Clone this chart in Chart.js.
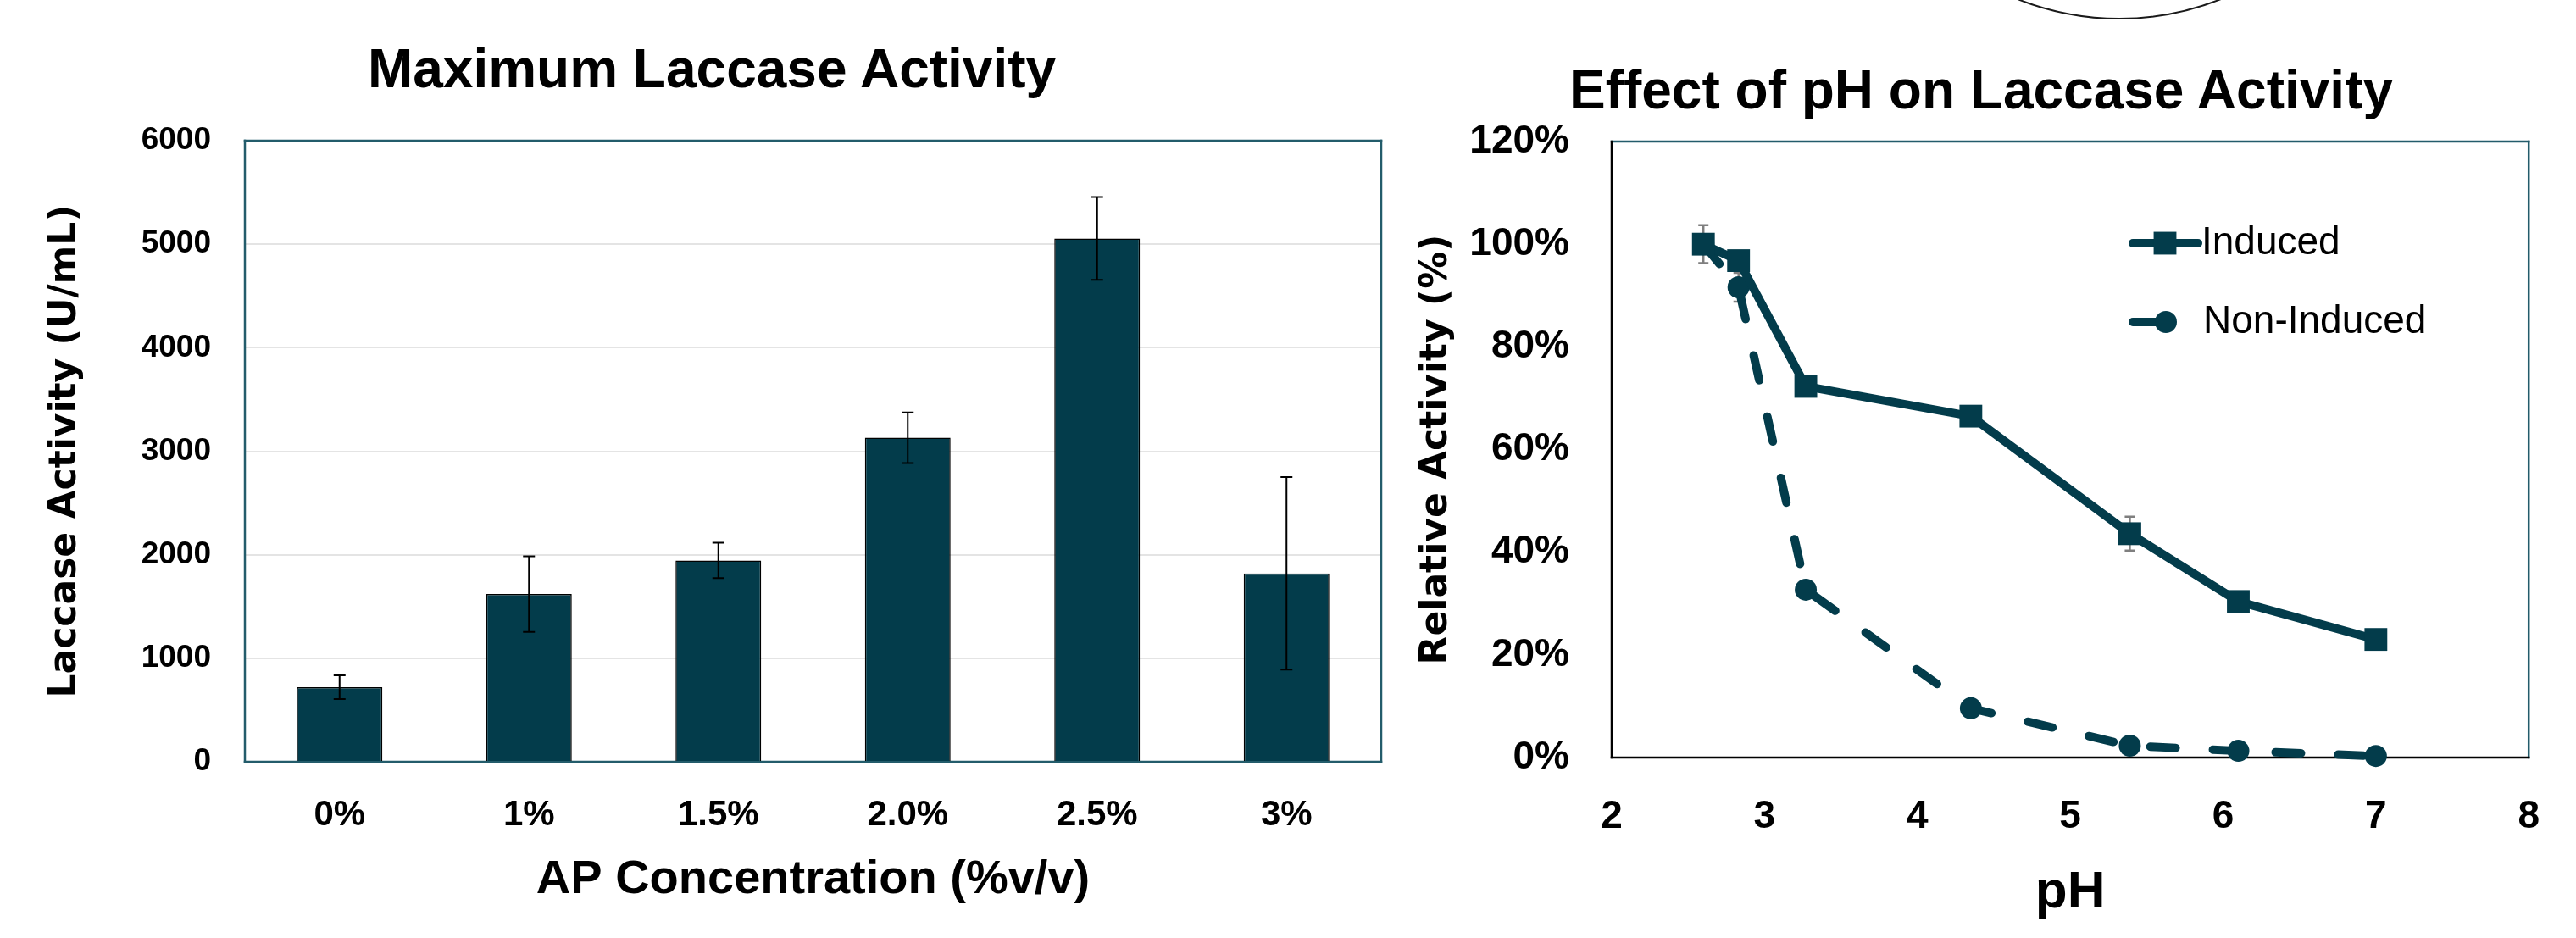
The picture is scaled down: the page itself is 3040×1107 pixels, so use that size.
<!DOCTYPE html>
<html>
<head>
<meta charset="utf-8">
<title>Laccase Activity</title>
<script src="https://cdn.jsdelivr.net/npm/chart.js@4.4.1/dist/chart.umd.min.js"></script>
<style>
  html, body { margin: 0; padding: 0; background: white; overflow: hidden; }
  #pagina { position: relative; width: 3040px; height: 1107px; overflow: hidden; background: white; }
  canvas { position: absolute; top: 0; }
  #graficoBarras { left: 0; }
  #graficoLinhas { left: 1650px; }
  .tituloGrafico {
    position: absolute;
    font-family: "Liberation Sans", Arial, sans-serif;
    font-weight: bold;
    font-size: 64px;
    line-height: 64px;
    text-align: center;
    color: #000;
    white-space: nowrap;
  }
  #tituloBarras { left: 0; width: 1680px; top: 49px; }
  #tituloLinhas { left: 1638px; width: 1400px; top: 74px; }
  #arco {
    position: absolute; left: 2176px; top: -627px;
    width: 650px; height: 650px;
    border: 2px solid #1a1a1a; border-radius: 50%; box-sizing: border-box;
  }
</style>
</head>
<body>
<div id="pagina">
  <div id="arco"></div>
  <div class="tituloGrafico" id="tituloBarras">Maximum Laccase Activity</div>
  <div class="tituloGrafico" id="tituloLinhas">Effect of pH on Laccase Activity</div>
  <canvas id="graficoBarras" width="1650" height="1107"></canvas>
  <canvas id="graficoLinhas" width="1390" height="1107"></canvas>
</div>

<script>
// ---- dados ----
var categoriasAP = ["0%", "1%", "1.5%", "2.0%", "2.5%", "3%"];
var atividadeMaxima = [720, 1620, 1945, 3130, 5055, 1820];
var erroAtividade = [115, 365, 170, 245, 400, 930];
var ticksAtividade = [0, 1000, 2000, 3000, 4000, 5000, 6000];

var valoresPH = [2.6, 2.83, 3.27, 4.35, 5.39, 6.1, 7.0];
var atividadeInduzida = [100, 96.8, 72.3, 66.5, 43.6, 30.4, 23.0];
var erroInduzida = [3.7, 1.2, 1, 1, 3.3, 1, 1];
var atividadeNaoInduzida = [100, 91.6, 32.7, 9.6, 2.3, 1.3, 0.3];
var erroNaoInduzida = [1, 2.8, 1, 1, 0.5, 0.5, 0.5];
var ticksPH = [2, 3, 4, 5, 6, 7, 8];
var ticksRelativa = [0, 20, 40, 60, 80, 100, 120];

var corTeal = "#033c4b";
var corMoldura = "#235c6b";
var fonteTexto = "'Liberation Sans', Arial, sans-serif";
var fonteEixo = "'DejaVu Sans', Verdana, sans-serif";

Chart.defaults.font.family = fonteTexto;
Chart.defaults.color = "#000";

// moldura em volta da area do grafico
var pluginMoldura = {
  id: "moldura",
  beforeDatasetsDraw: function (chart, args, op) {
    var ctx = chart.ctx;
    var a = chart.chartArea;
    ctx.save();
    ctx.lineWidth = op.largura;
    ctx.lineCap = "square";
    ctx.strokeStyle = op.topo;
    ctx.beginPath(); ctx.moveTo(a.left, a.top); ctx.lineTo(a.right, a.top); ctx.stroke();
    ctx.strokeStyle = op.direita;
    ctx.beginPath(); ctx.moveTo(a.right, a.top); ctx.lineTo(a.right, a.bottom); ctx.stroke();
    ctx.strokeStyle = op.esquerda;
    ctx.beginPath(); ctx.moveTo(a.left, a.top); ctx.lineTo(a.left, a.bottom); ctx.stroke();
    ctx.strokeStyle = op.base;
    ctx.beginPath(); ctx.moveTo(a.left, a.bottom); ctx.lineTo(a.right, a.bottom); ctx.stroke();
    ctx.restore();
  }
};

function desenharErros(chart, op) {
  var ctx = chart.ctx;
  var escalaY = chart.scales.y;
  for (var d = 0; d < chart.data.datasets.length; d++) {
    var dataset = chart.data.datasets[d];
    if (!dataset.erros) continue;
    var meta = chart.getDatasetMeta(d);
    ctx.save();
    ctx.strokeStyle = op.cor;
    ctx.lineWidth = op.largura;
    for (var i = 0; i < dataset.erros.length; i++) {
      var ponto = dataset.data[i];
      var valor = typeof ponto === "object" ? ponto.y : ponto;
      var x = meta.data[i].x;
      var topo = escalaY.getPixelForValue(valor + dataset.erros[i]);
      var base = escalaY.getPixelForValue(valor - dataset.erros[i]);
      ctx.beginPath();
      ctx.moveTo(x, topo); ctx.lineTo(x, base);
      ctx.moveTo(x - op.capa, topo); ctx.lineTo(x + op.capa, topo);
      ctx.moveTo(x - op.capa, base); ctx.lineTo(x + op.capa, base);
      ctx.stroke();
    }
    ctx.restore();
  }
}

var pluginErros = {
  id: "barrasErro",
  beforeDatasetsDraw: function (chart, args, op) {
    if (!op.naFrente) desenharErros(chart, op);
  },
  afterDatasetsDraw: function (chart, args, op) {
    if (op.naFrente) desenharErros(chart, op);
  }
};

// legenda dentro da area do grafico (linha + marcador)
var pluginLegenda = {
  id: "legendaInterna",
  afterDatasetsDraw: function (chart, args, op) {
    var ctx = chart.ctx;
    var a = chart.chartArea;
    for (var d = 0; d < chart.data.datasets.length; d++) {
      var ds = chart.data.datasets[d];
      var item = op.itens[d];
      var y = a.top + item.y;
      ctx.save();
      ctx.strokeStyle = ds.borderColor;
      ctx.fillStyle = ds.backgroundColor;
      ctx.lineWidth = ds.borderWidth;
      ctx.lineCap = "round";
      ctx.beginPath();
      ctx.moveTo(a.left + item.x0, y);
      ctx.lineTo(a.left + item.x1, y);
      ctx.stroke();
      Chart.helpers.drawPoint(ctx, {
        pointStyle: ds.pointStyle, radius: ds.pointRadius, borderWidth: 0, rotation: 0
      }, a.left + item.xm, y);
      ctx.fillStyle = "#000";
      ctx.font = op.fonte;
      ctx.textBaseline = "middle";
      ctx.textAlign = "left";
      ctx.fillText(ds.label, a.left + item.xt, y);
      ctx.restore();
    }
  }
};

function desenharBarras() {
  new Chart(document.getElementById("graficoBarras"), {
    type: "bar",
    data: {
      labels: categoriasAP,
      datasets: [{
        label: "Laccase Activity",
        data: atividadeMaxima,
        erros: erroAtividade,
        backgroundColor: corTeal,
        borderColor: "#000",
        borderWidth: 1.5,
        barPercentage: 0.452,
        categoryPercentage: 1
      }]
    },
    options: {
      responsive: false,
      animation: false,
      devicePixelRatio: 1,
      layout: { padding: { top: 166, right: 20, left: 0, bottom: 0 } },
      plugins: {
        legend: { display: false },
        tooltip: { enabled: false },
        moldura: { largura: 2.5, topo: corMoldura, direita: corMoldura, esquerda: corMoldura, base: corMoldura },
        barrasErro: { naFrente: true, cor: "#000", largura: 2, capa: 7 }
      },
      scales: {
        x: {
          afterFit: function (escala) { escala.height = 208; },
          grid: { display: false, drawTicks: false },
          border: { display: false },
          ticks: { padding: 38, maxRotation: 0, autoSkip: false, font: { size: 42, weight: "bold" } },
          title: {
            display: true,
            text: "AP Concentration (%v/v)",
            font: { size: 56, weight: "bold" },
            padding: { top: 0, bottom: 35 }
          }
        },
        y: {
          min: ticksAtividade[0],
          max: ticksAtividade[ticksAtividade.length - 1],
          afterFit: function (escala) { escala.width = 289; },
          afterBuildTicks: function (escala) {
            escala.ticks = ticksAtividade.map(function (v) { return { value: v }; });
          },
          grid: { color: "#e4e4e4", lineWidth: 2, drawTicks: false },
          border: { display: false },
          ticks: {
            padding: 40,
            font: { size: 37, weight: "bold" },
            callback: function (v) { return String(v); }
          },
          title: {
            display: true,
            text: "Laccase Activity (U/mL)",
            font: { family: fonteEixo, size: 44, weight: "bold" },
            padding: { top: 51, bottom: 0 }
          }
        }
      }
    },
    plugins: [pluginMoldura, pluginErros]
  });
}

function desenharLinhas() {
  var pontosInduzida = valoresPH.map(function (ph, i) { return { x: ph, y: atividadeInduzida[i] }; });
  var pontosNaoInduzida = valoresPH.map(function (ph, i) { return { x: ph, y: atividadeNaoInduzida[i] }; });

  new Chart(document.getElementById("graficoLinhas"), {
    type: "line",
    data: {
      datasets: [
        {
          label: "Induced",
          data: pontosInduzida,
          erros: erroInduzida,
          borderColor: corTeal,
          backgroundColor: corTeal,
          borderWidth: 10,
          pointStyle: "rect",
          pointRadius: 19,
          pointHoverRadius: 19,
          pointBorderWidth: 0,
          tension: 0,
          clip: false
        },
        {
          label: "Non-Induced",
          data: pontosNaoInduzida,
          erros: erroNaoInduzida,
          borderColor: corTeal,
          backgroundColor: corTeal,
          borderWidth: 10,
          borderDash: [30, 44],
          borderCapStyle: "round",
          pointStyle: "circle",
          pointRadius: 13,
          pointHoverRadius: 13,
          pointBorderWidth: 0,
          tension: 0,
          clip: false
        }
      ]
    },
    options: {
      responsive: false,
      animation: false,
      devicePixelRatio: 1,
      layout: { padding: { top: 167, right: 53, left: 0, bottom: 0 } },
      plugins: {
        legend: { display: false },
        tooltip: { enabled: false },
        moldura: { largura: 2.5, topo: corMoldura, direita: corMoldura, esquerda: "#000", base: "#000" },
        barrasErro: { naFrente: false, cor: "#7f7f7f", largura: 2.5, capa: 6 },
        legendaInterna: {
          fonte: "46px " + fonteTexto,
          itens: [
            { y: 120, x0: 615, x1: 692, xm: 653, xt: 696 },
            { y: 213, x0: 615, x1: 654, xm: 654, xt: 698 }
          ]
        }
      },
      scales: {
        x: {
          type: "linear",
          min: ticksPH[0],
          max: ticksPH[ticksPH.length - 1],
          afterFit: function (escala) { escala.height = 213; },
          afterBuildTicks: function (escala) {
            escala.ticks = ticksPH.map(function (v) { return { value: v }; });
          },
          grid: { display: false, drawTicks: false },
          border: { display: false },
          ticks: { padding: 43, font: { size: 46, weight: "bold" } },
          title: {
            display: true,
            text: "pH",
            font: { size: 62, weight: "bold" },
            padding: { top: 0, bottom: 16 }
          }
        },
        y: {
          min: ticksRelativa[0],
          max: ticksRelativa[ticksRelativa.length - 1],
          afterFit: function (escala) { escala.width = 252; },
          afterBuildTicks: function (escala) {
            escala.ticks = ticksRelativa.map(function (v) { return { value: v }; });
          },
          grid: { display: false, drawTicks: false },
          border: { display: false },
          ticks: {
            padding: 50,
            font: { size: 46, weight: "bold" },
            callback: function (v) { return v + "%"; }
          },
          title: {
            display: true,
            text: "Relative Activity (%)",
            font: { family: fonteEixo, size: 44, weight: "bold" },
            padding: { top: 19, bottom: 0 }
          }
        }
      }
    },
    plugins: [pluginMoldura, pluginErros, pluginLegenda]
  });
}

desenharBarras();
desenharLinhas();
</script>
</body>
</html>
